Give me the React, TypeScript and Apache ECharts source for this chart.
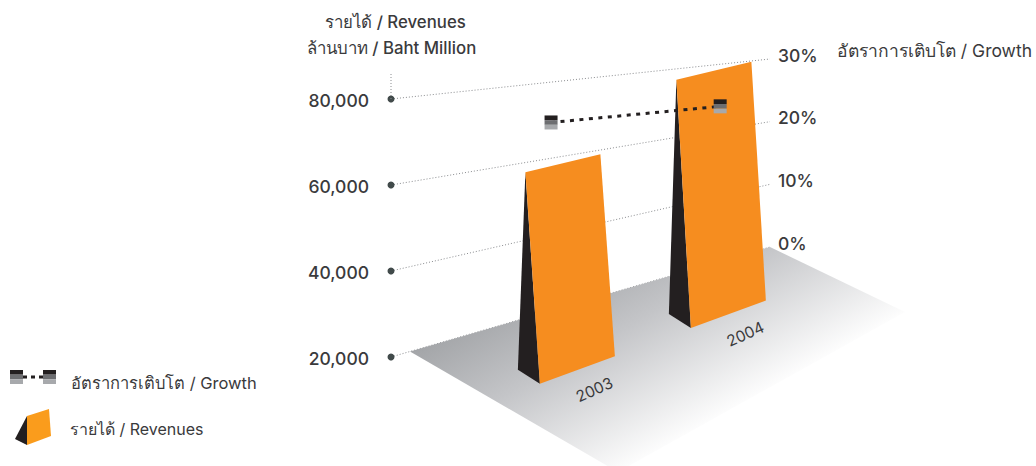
import React, { useEffect, useRef } from "react";
import * as echarts from "echarts";

const years = [2003, 2004];
const revenues = [57500, 76800];
const growth = [24.7, 23.6];
const revenueTicks = [20000, 40000, 60000, 80000];
const growthTicks = [0, 10, 20, 30];

const FONT = "Inter, 'Liberation Sans', Arial, 'Noto Sans', sans-serif";
const TEXT = "#3a3a3c";
const ORANGE = "#f68d1f";
const BLACK = "#231f20";
const MARKER = ["#231f20", "#6d6e71", "#a7a9ac"];

const L = 391, R = 770;

function markerEls(cx: number, cy: number) {
  return MARKER.map((fill, i) => ({
    type: "rect",
    shape: { x: cx - 6.5, y: cy - 7 + i * 4.67, width: 13, height: 4.67 },
    style: { fill },
  }));
}

export default function App() {
  const ref = useRef<HTMLDivElement>(null);
  useEffect(() => {
    const chart = echarts.init(ref.current!, undefined, { renderer: "svg" });
    const px = (x: number) => chart.convertToPixel({ xAxisIndex: 0 }, x) as number;
    const wall = (x: number, rev: number) => {
      const xp = px(x);
      const t = (xp - L) / (R - L);
      const yl = (chart.convertToPixel({ yAxisIndex: 0 }, rev) as number) - 1;
      const yr = (chart.convertToPixel({ yAxisIndex: 1 }, (rev - 20000) / 2000) as number) + 4;
      return [xp, yl + (yr - yl) * t];
    };
    const xMin = 2002.11, xMax = 2004.62;
    const floorBase = (year: number) => {
      const x = px(year) + 14.5;
      return [x, 384 - ((x - 539) * 56) / 152];
    };
    const growthX = (year: number) => year + 0.17 + (year - 2003) * 0.12;
    const text = (t: string, x: number, y: number, size = 15, align = "left", weight = 400) => ({
      type: "text",
      x,
      y,
      style: { text: t, font: `${weight} ${size}px ${FONT}`, fill: TEXT, textAlign: align, textVerticalAlign: "middle" },
    });

    chart.setOption({
      animation: false,
      grid: [
        { left: L, width: R - L, top: 100, bottom: 108 },
        { left: L, width: R - L, top: 55, height: 188 },
      ],
      xAxis: [0, 1].map((i) => ({ type: "value", gridIndex: i, min: xMin, max: xMax, show: false })),
      yAxis: [
        {
          type: "value",
          gridIndex: 0,
          min: revenueTicks[0],
          max: revenueTicks[3],
          interval: 20000,
          axisLine: { show: false },
          axisTick: { show: false },
          splitLine: { show: false },
          axisLabel: {
            margin: 22,
            fontFamily: FONT,
            fontSize: 17.5,
            fontWeight: 500,
            color: TEXT,
            formatter: (v: number) => v.toLocaleString("en-US"),
          },
        },
        {
          type: "value",
          gridIndex: 1,
          position: "right",
          min: growthTicks[0],
          max: growthTicks[3],
          interval: 10,
          axisLine: { show: false },
          axisTick: { show: false },
          splitLine: { show: false },
          axisLabel: { margin: 8, fontFamily: FONT, fontSize: 17.5, fontWeight: 500, color: TEXT, formatter: "{value}%" },
        },
      ],
      series: [
        {
          type: "custom",
          name: "Wall",
          xAxisIndex: 0,
          yAxisIndex: 0,
          silent: true,
          z: 1,
          data: revenueTicks,
          renderItem: (p: any, api: any) => {
            const v = api.value(0);
            const a = wall(xMin, v);
            const b = wall(xMax, v);
            return {
              type: "group",
              children: [
                { type: "line", shape: { x1: a[0], y1: a[1], x2: b[0], y2: b[1] }, style: { stroke: "#8a8c8f", lineWidth: 1, lineDash: [1, 2] } },
                { type: "circle", shape: { cx: a[0], cy: a[1], r: 3.5 }, style: { fill: "#414a4a" } },
                ...(v === revenueTicks[3]
                  ? [{ type: "line", shape: { x1: a[0], y1: a[1], x2: a[0], y2: a[1] - 26 }, style: { stroke: "#8a8c8f", lineWidth: 1, lineDash: [1, 2] } }]
                  : []),
              ],
            };
          },
        },
        {
          type: "custom",
          name: "Floor",
          xAxisIndex: 0,
          yAxisIndex: 0,
          silent: true,
          z: 2,
          data: [revenueTicks[0]],
          renderItem: () => {
            const a = wall(xMin + (19 / (R - L)) * (xMax - xMin), revenueTicks[0]);
            const b = wall(xMax, revenueTicks[0]);
            return {
              type: "polygon",
              shape: { points: [a, b, [905, 312], [618, 472]] },
              style: {
                fill: {
                  type: "linear",
                  global: true,
                  x: 410,
                  y: 352,
                  x2: 514,
                  y2: 537,
                  colorStops: [
                    { offset: 0, color: "#a3a5a8" },
                    { offset: 0.4, color: "#c4c5c8" },
                    { offset: 1, color: "#ffffff" },
                  ],
                },
              },
            };
          },
        },
        {
          type: "custom",
          name: "รายได้ / Revenues",
          xAxisIndex: 0,
          yAxisIndex: 0,
          silent: true,
          z: 3,
          encode: { x: 0, y: 1 },
          data: years.map((y, i) => [y, revenues[i]]),
          renderItem: (p: any, api: any) => {
            const year = api.value(0);
            const top = wall(year, api.value(1));
            const base = floorBase(year);
            return {
              type: "group",
              children: [
                {
                  type: "polygon",
                  shape: { points: [top, base, [base[0] - 22, base[1] - 14]] },
                  style: { fill: BLACK },
                },
                {
                  type: "polygon",
                  shape: {
                    points: [top, [top[0] + 75, top[1] - 18], [base[0] + 75, base[1] - 27.5], base],
                  },
                  style: { fill: ORANGE },
                },
                {
                  type: "text",
                  x: base[0] + 54.5,
                  y: base[1] + 6,
                  rotation: 0.42,
                  style: { text: String(year), font: `15.5px ${FONT}`, fill: TEXT, textAlign: "center", textVerticalAlign: "middle" },
                },
              ],
            };
          },
        },
        {
          type: "custom",
          name: "อัตราการเติบโต / Growth",
          xAxisIndex: 1,
          yAxisIndex: 1,
          silent: true,
          z: 4,
          encode: { x: 0, y: 1 },
          data: years.map((y, i) => [y, growth[i]]),
          renderItem: (p: any, api: any) => {
            const i = p.dataIndex;
            const toPt = (j: number) => wall(growthX(years[j]), 20000 + growth[j] * 2000);
            const c = toPt(i);
            const children: any[] = [];
            if (i + 1 < years.length) {
              const n = toPt(i + 1);
              children.push({
                type: "line",
                shape: { x1: c[0], y1: c[1], x2: n[0], y2: n[1] },
                style: { stroke: BLACK, lineWidth: 3, lineDash: [4, 5.5] },
              });
            }
            children.push(...markerEls(c[0], c[1]));
            return { type: "group", z2: 10 - i, children };
          },
        },
      ],
      graphic: [
        text("รายได้ / Revenues", 395.5, 22, 16.8, "center", 500),
        text("ล้านบาท / Baht Million", 391.5, 48, 16.8, "center", 500),
        text("อัตราการเติบโต / Growth", 1032, 50, 17.5, "right"),
        text("ปี / Year", 785, 308, 16, "left", 500),
        { type: "line", shape: { x1: 23, y1: 377, x2: 43, y2: 377 }, style: { stroke: BLACK, lineWidth: 3, lineDash: [4, 4] } },
        ...markerEls(16.5, 377),
        ...markerEls(49.5, 377),
        text("อัตราการเติบโต / Growth", 71, 383, 16.5),
        { type: "polygon", shape: { points: [[15, 439], [27, 416], [27, 445]] }, style: { fill: BLACK } },
        { type: "polygon", shape: { points: [[27, 416], [49, 409], [51, 436], [27, 445]] }, style: { fill: "#fa9c1c" } },
        text("รายได้ / Revenues", 70, 429, 16),
      ],
    });
    return () => chart.dispose();
  }, []);
  return <div ref={ref} style={{ position: "absolute", left: 0, top: 0, width: 1036, height: 466 }} />;
}
